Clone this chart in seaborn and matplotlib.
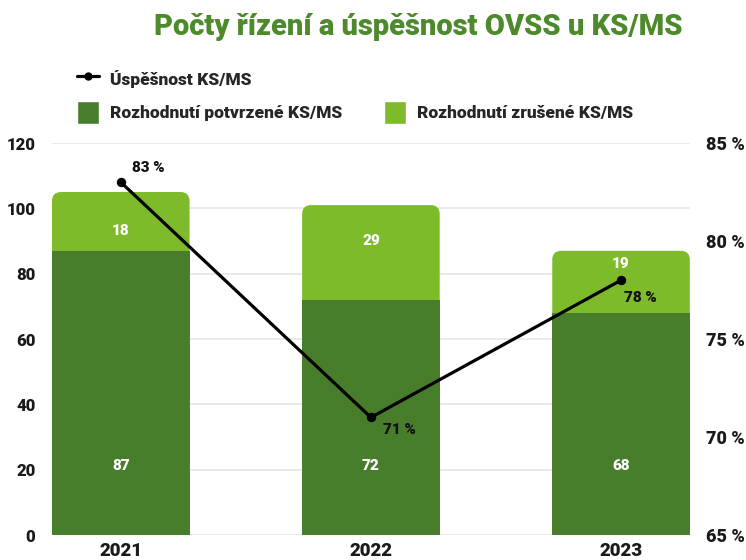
import pandas as pd
import numpy as np
import matplotlib
matplotlib.use("Agg")
import matplotlib.pyplot as plt
from matplotlib.patches import Patch, FancyBboxPatch
from matplotlib.lines import Line2D
import seaborn as sns

# data
years = ["2021", "2022", "2023"]
confirmed = [87, 72, 68]
cancelled = [18, 29, 19]
success = [83, 71, 78]

dark_green = "#487d2b"
light_green = "#7dbb2b"
title_green = "#4d8a2c"

df = pd.DataFrame({"year": years, "confirmed": confirmed, "cancelled": cancelled, "success": success})
df["total"] = df["confirmed"] + df["cancelled"]

sns.set_style("white")
plt.rcParams["font.family"] = ["Roboto", "DejaVu Sans"]

fig = plt.figure(figsize=(7.46, 5.6), dpi=100)
ax = fig.add_axes([0.0697, 0.0446, 0.855, 0.70])

# stacked bars: total (light) first, confirmed (dark) over it
sns.barplot(data=df, x="year", y="total", color=light_green, width=0.55, saturation=1,
            linewidth=0, ax=ax, zorder=2)
n_light = len(ax.patches)
sns.barplot(data=df, x="year", y="confirmed", color=dark_green, width=0.55, saturation=1,
            linewidth=0, ax=ax, zorder=3)

ax.set_ylim(0, 120)
ax.set_yticks(range(0, 121, 20))
ax.set_xlim(-0.275, 2.275)

# rounded tops for the light bars
px_x = ax.get_window_extent().width / (ax.get_xlim()[1] - ax.get_xlim()[0])
px_y = ax.get_window_extent().height / (ax.get_ylim()[1] - ax.get_ylim()[0])
for p in list(ax.patches[:n_light]):
    x, y, w, h = p.get_x(), p.get_y(), p.get_width(), p.get_height()
    p.remove()
    ax.add_patch(FancyBboxPatch((x, y), w, h, boxstyle=f"round,pad=0,rounding_size={9 / px_x}",
                                mutation_aspect=px_x / px_y, facecolor=light_green,
                                edgecolor="none", zorder=2))

ax.set_xlabel("")
ax.set_ylabel("")
ax.grid(axis="y", color="#e6e6e6", linewidth=1.2, zorder=0)
ax.set_axisbelow(True)
for s in ax.spines.values():
    s.set_visible(False)
ax.tick_params(axis="both", length=0, labelcolor="#1a1a1a")
ax.tick_params(axis="y", pad=12, labelsize=12)
ax.tick_params(axis="x", pad=5, labelsize=13.5)
for lab in ax.get_xticklabels() + ax.get_yticklabels():
    lab.set_fontweight("heavy")

# value labels in the bars
top_label_drop = [12, 11, 4]
for i, row in df.iterrows():
    ax.text(i, 21, str(row["confirmed"]), color="white", ha="center", va="center",
            fontsize=11, fontweight="heavy", zorder=5)
    ax.text(i, row["total"] - top_label_drop[i], str(row["cancelled"]), color="white",
            ha="center", va="center", fontsize=11, fontweight="heavy", zorder=5)

# success line on the right axis
ax2 = ax.twinx()
sns.lineplot(x=np.arange(len(years)), y=df["success"], color="black", linewidth=2.3,
             marker="o", markersize=6, markeredgecolor="black", ax=ax2, zorder=6)
ax2.set_ylim(65, 85)
ax2.set_yticks(range(65, 86, 5))
ax2.set_yticklabels([f"{v} %" for v in range(65, 86, 5)])
ax2.set_ylabel("")
for s in ax2.spines.values():
    s.set_visible(False)
ax2.tick_params(axis="y", length=0, labelsize=13, labelcolor="#1a1a1a", pad=12)
for lab in ax2.get_yticklabels():
    lab.set_fontweight("heavy")

offsets = [(8, 10), (9, -9), (2, -13)]
for i, v in enumerate(success):
    ax2.annotate(f"{v} %", (i, v), xytext=offsets[i], textcoords="offset points",
                 ha="left", va="center", fontsize=11, fontweight="heavy", color="#111111")

fig.text(0.56, 0.952, "Počty řízení a úspěšnost OVSS u KS/MS", ha="center", va="center",
         fontsize=21, fontweight="black", color=title_green)

handles = [
    Line2D([0], [0], color="black", linewidth=2.3, marker="o", markersize=5),
    Patch(facecolor=dark_green),
    Patch(facecolor="none", edgecolor="none"),
    Patch(facecolor=light_green),
]
labels = ["Úspěšnost KS/MS", "Rozhodnutí potvrzené KS/MS", "", "Rozhodnutí zrušené KS/MS"]
leg = fig.legend(handles, labels, ncol=2, loc="upper left", bbox_to_anchor=(0.082, 0.907),
                 frameon=False, handlelength=1.3, handleheight=1.7, columnspacing=2.4,
                 labelspacing=0.55, handletextpad=0.6,
                 prop={"weight": "heavy", "size": 12.5})

plt.savefig("out.png", dpi=100)
